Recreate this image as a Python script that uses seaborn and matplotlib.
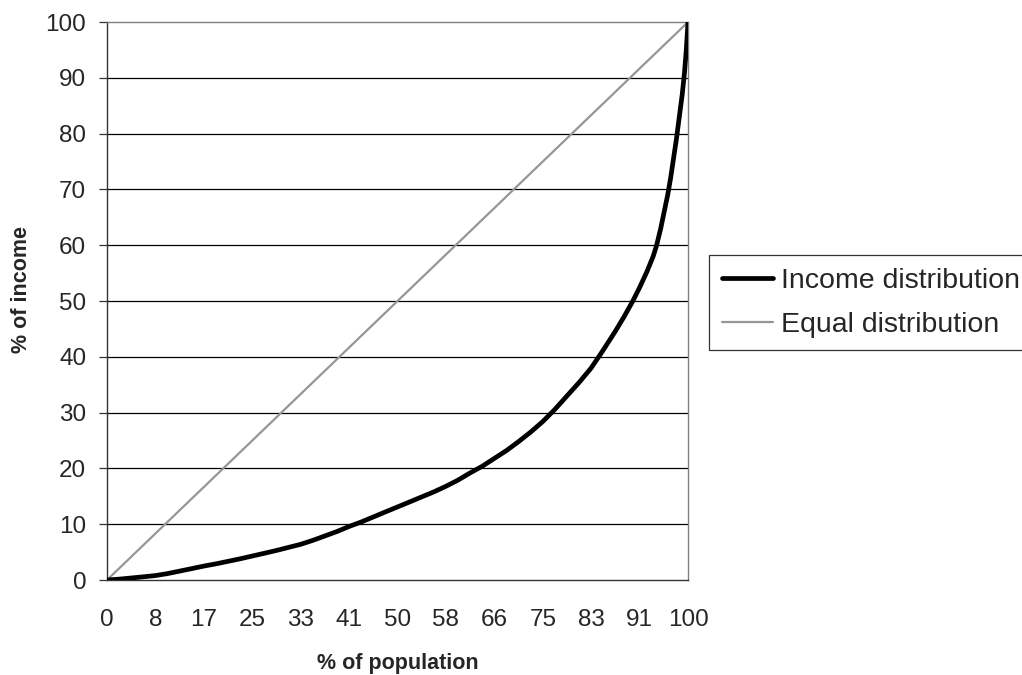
import matplotlib
matplotlib.use("Agg")
import matplotlib.pyplot as plt
import seaborn as sns
import pandas as pd

# Data
population_pct = [0, 2, 4, 6, 8.33, 10.4, 12.5, 14.6, 16.67, 18.75, 20.83, 22.9, 25,
                  27.1, 29.17, 31.25, 33.33, 35.4, 37.5, 39.6, 41.67, 43.75, 45.83,
                  47.9, 50, 52.1, 54.17, 56.25, 58.33, 60.4, 62.5, 64.6, 66.67, 68.75,
                  70.83, 72.9, 75, 77.1, 79.17, 81.25, 83.33, 85.4, 87.5, 89, 90.5,
                  91.7, 92.9, 94, 94.6, 95.3, 95.9, 96.5, 97.0, 97.5, 98.0, 98.5,
                  99.0, 99.4, 99.7, 100]
income_pct = [0, 0.15, 0.35, 0.55, 0.8, 1.15, 1.6, 2.05, 2.5, 2.9, 3.35, 3.8, 4.3,
              4.8, 5.3, 5.85, 6.4, 7.1, 7.9, 8.7, 9.6, 10.4, 11.3,
              12.2, 13.1, 14.0, 14.9, 15.8, 16.8, 17.9, 19.2, 20.4, 21.8, 23.2,
              24.8, 26.5, 28.4, 30.6, 33.0, 35.4, 38.0, 41.2, 44.6, 47.2, 50,
              52.5, 55.2, 58, 60, 63, 66, 69, 72, 75.5, 79, 83,
              87, 91, 95, 100]
equal_x = [0, 100]
equal_y = [0, 100]
x_tick_labels = ["0", "8", "17", "25", "33", "41", "50", "58", "66", "75", "83", "91", "100"]
y_ticks = [0, 10, 20, 30, 40, 50, 60, 70, 80, 90, 100]

sns.set_style("white")
plt.rcParams["font.family"] = ["Liberation Sans", "DejaVu Sans"]

fig = plt.figure(figsize=(10.22, 6.75), dpi=100)
ax = fig.add_axes([0.1047, 0.1407, 0.5685, 0.8266])

df_inc = pd.DataFrame({"x": population_pct, "y": income_pct})
df_eq = pd.DataFrame({"x": equal_x, "y": equal_y})

sns.lineplot(data=df_inc, x="x", y="y", ax=ax, color="black", linewidth=3.4,
             label="Income distribution", zorder=4, estimator=None, sort=False)
sns.lineplot(data=df_eq, x="x", y="y", ax=ax, color="#969696", linewidth=1.6,
             label="Equal distribution", zorder=3, estimator=None, sort=False)

ax.set_xlim(0, 100)
ax.set_ylim(0, 100)
ax.set_yticks(y_ticks)
ax.set_yticklabels([str(v) for v in y_ticks])
xt = [100 * i / 12 for i in range(13)]
ax.set_xticks(xt)
ax.set_xticklabels(x_tick_labels)

for v in y_ticks[1:-1]:
    ax.axhline(v, color="black", linewidth=0.9, zorder=1)

ax.tick_params(axis="y", direction="out", length=6, width=0.9, color="#333333",
               labelsize=17.5, pad=9, left=True)
ax.tick_params(axis="x", length=0, labelsize=17.5, pad=21)

for s in ["left", "bottom"]:
    ax.spines[s].set_color("#333333")
    ax.spines[s].set_linewidth(1.0)
for s in ["top", "right"]:
    ax.spines[s].set_color("#808080")
    ax.spines[s].set_linewidth(1.0)

ax.set_xlabel("% of population", fontsize=15.5, fontweight="bold")
ax.xaxis.set_label_coords(0.501, -0.131)
ax.set_ylabel("% of income", fontsize=15.5, fontweight="bold")
ax.yaxis.set_label_coords(-0.129, 0.52)

leg = ax.legend(loc="upper left", bbox_to_anchor=(1.036, 0.5824), fontsize=20.5,
                frameon=True, fancybox=False, edgecolor="#333333", framealpha=1,
                handlelength=1.8, handletextpad=0.28, borderpad=0.45,
                labelspacing=0.62, borderaxespad=0)
leg.get_frame().set_linewidth(0.9)

fig.savefig("out.png", dpi=100)
